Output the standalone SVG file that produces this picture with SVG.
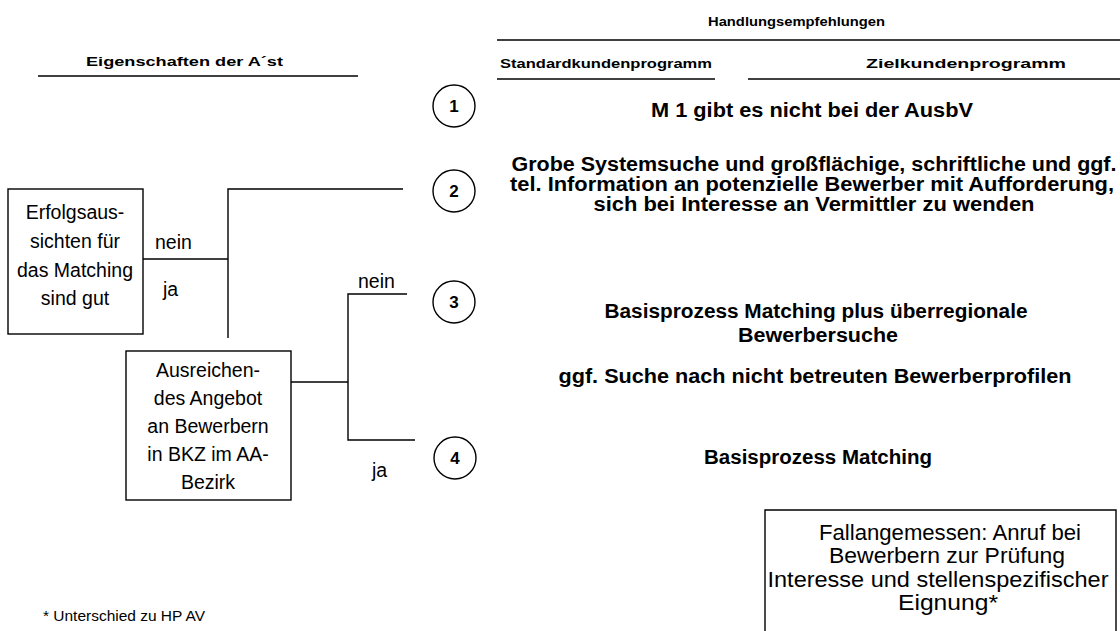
<svg xmlns="http://www.w3.org/2000/svg" width="1120" height="631" viewBox="0 0 1120 631">
<style>
.h{font-family:"Liberation Sans",Arial,sans-serif;font-weight:bold;font-size:13.5px;fill:#000}
.b{font-family:"Liberation Sans",Arial,sans-serif;font-weight:bold;font-size:20px;fill:#000;text-anchor:middle}
.n{font-family:"Liberation Sans",Arial,sans-serif;font-size:19.5px;fill:#000;text-anchor:middle}
.l{font-family:"Liberation Sans",Arial,sans-serif;font-size:19.5px;fill:#000}
.r{font-family:"Liberation Sans",Arial,sans-serif;font-size:22px;fill:#000;text-anchor:middle}
.c{font-family:"Liberation Sans",Arial,sans-serif;font-weight:bold;font-size:17px;fill:#000;text-anchor:middle}
.s{fill:none;stroke:#000;stroke-width:1.4}
.box{fill:#fff;stroke:#000;stroke-width:1.4}
</style>
<rect width="1120" height="631" fill="#fff"/>
<g id="headers">
<text class="h" x="708" y="26" textLength="177" lengthAdjust="spacingAndGlyphs">Handlungsempfehlungen</text>
<line class="s" x1="497" y1="40" x2="1120" y2="40"/>
<text class="h" x="86" y="66" textLength="197" lengthAdjust="spacingAndGlyphs">Eigenschaften der A´st</text>
<line class="s" x1="38" y1="76" x2="358" y2="76"/>
<text class="h" x="500" y="68" textLength="212" lengthAdjust="spacingAndGlyphs">Standardkundenprogramm</text>
<line class="s" x1="497" y1="79" x2="715" y2="79"/>
<text class="h" x="866" y="68" textLength="200" lengthAdjust="spacingAndGlyphs">Zielkundenprogramm</text>
<line class="s" x1="748" y1="79" x2="1120" y2="79"/>
</g>
<g id="connectors">
<polyline class="s" points="143,259 228,259"/>
<polyline class="s" points="403,189 228,189 228,338"/>
<polyline class="s" points="291,382 348,382"/>
<polyline class="s" points="407,294 348,294 348,440 415,440"/>
<text class="l" x="155" y="249">nein</text>
<text class="l" x="163" y="296">ja</text>
<text class="l" x="358" y="288">nein</text>
<text class="l" x="372" y="477">ja</text>
</g>
<g id="box1">
<rect class="box" x="8" y="189" width="135" height="145"/>
<text class="n" x="75" y="219">Erfolgsaus-</text>
<text class="n" x="75" y="248">sichten für</text>
<text class="n" x="75" y="277">das Matching</text>
<text class="n" x="75" y="305">sind gut</text>
</g>
<g id="box2">
<rect class="box" x="126" y="351" width="165" height="149"/>
<text class="n" x="208" y="377">Ausreichen-</text>
<text class="n" x="208" y="405">des Angebot</text>
<text class="n" x="208" y="433">an Bewerbern</text>
<text class="n" x="208" y="461">in BKZ im AA-</text>
<text class="n" x="208" y="489">Bezirk</text>
</g>
<g id="c1"><circle class="s" cx="454" cy="106" r="21"/><text class="c" x="454" y="112">1</text></g>
<g id="c2"><circle class="s" cx="454" cy="191" r="21"/><text class="c" x="454" y="197">2</text></g>
<g id="c3"><circle class="s" cx="454" cy="302" r="21"/><text class="c" x="454" y="308">3</text></g>
<g id="c4"><circle class="s" cx="455" cy="458" r="21"/><text class="c" x="455" y="464">4</text></g>
<g id="t1">
<text class="b" x="812" y="117" textLength="322" lengthAdjust="spacingAndGlyphs">M 1 gibt es nicht bei der AusbV</text>
</g>
<g id="t2">
<text class="b" x="814" y="171" textLength="605" lengthAdjust="spacingAndGlyphs">Grobe Systemsuche und großflächige, schriftliche und ggf.</text>
<text class="b" x="812" y="191" textLength="604" lengthAdjust="spacingAndGlyphs">tel. Information an potenzielle Bewerber mit Aufforderung,</text>
<text class="b" x="814" y="211" textLength="441" lengthAdjust="spacingAndGlyphs">sich bei Interesse an Vermittler zu wenden</text>
</g>
<g id="t3">
<text class="b" x="816" y="318" textLength="423" lengthAdjust="spacingAndGlyphs">Basisprozess Matching plus überregionale</text>
<text class="b" x="818" y="342" textLength="160" lengthAdjust="spacingAndGlyphs">Bewerbersuche</text>
<text class="b" x="815" y="383" textLength="513" lengthAdjust="spacingAndGlyphs">ggf. Suche nach nicht betreuten Bewerberprofilen</text>
</g>
<g id="t4">
<text class="b" x="818" y="464" textLength="228" lengthAdjust="spacingAndGlyphs">Basisprozess Matching</text>
</g>
<g id="box3">
<polyline class="s" points="765,631 765,510 1116,510 1116,631"/>
<text class="r" x="950" y="540" textLength="262" lengthAdjust="spacingAndGlyphs">Fallangemessen: Anruf bei</text>
<text class="r" x="947" y="563" textLength="236" lengthAdjust="spacingAndGlyphs">Bewerbern zur Prüfung</text>
<text class="r" x="938" y="587" textLength="341" lengthAdjust="spacingAndGlyphs">Interesse und stellenspezifischer</text>
<text class="r" x="948" y="610" textLength="100" lengthAdjust="spacingAndGlyphs">Eignung*</text>
</g>
<text id="footnote" x="43" y="621" textLength="162" lengthAdjust="spacingAndGlyphs" style="font-family:'Liberation Sans',Arial,sans-serif;font-size:14.5px">* Unterschied zu HP AV</text>
</svg>
